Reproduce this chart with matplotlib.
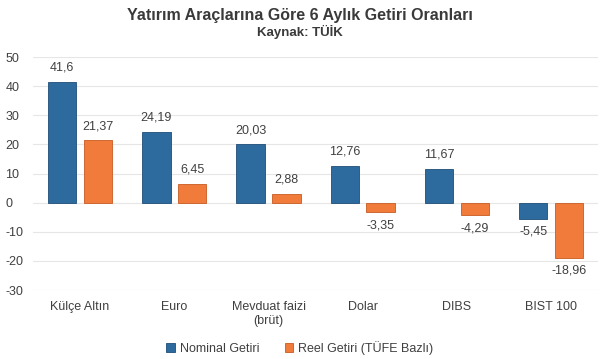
import numpy as np
import matplotlib.pyplot as plt

plt.rcParams['font.family'] = ['Liberation Sans Narrow', 'Liberation Sans', 'DejaVu Sans']
plt.rcParams['axes.unicode_minus'] = False

categories = ['Külçe Altın', 'Euro', 'Mevduat faizi\n(brüt)', 'Dolar', 'DIBS', 'BIST 100']
nominal = [41.6, 24.19, 20.03, 12.76, 11.67, -5.45]
reel = [21.37, 6.45, 2.88, -3.35, -4.29, -18.96]
nominal_lbl = ['41,6', '24,19', '20,03', '12,76', '11,67', '-5,45']
reel_lbl = ['21,37', '6,45', '2,88', '-3,35', '-4,29', '-18,96']

blue = '#2D6A9E'
orange = '#F07B3B'
txt = '#404040'

fig = plt.figure(figsize=(6, 3.59), dpi=100)
ax = fig.add_axes([0.055, 0.192, 0.942, 0.649])

x = np.arange(len(categories))
w = 0.30
off = 0.19
b1 = ax.bar(x - off, nominal, w, color=blue, edgecolor='#1F4E78', linewidth=0.6,
            label='Nominal Getiri', zorder=3)
b2 = ax.bar(x + off, reel, w, color=orange, edgecolor='#C85A22', linewidth=0.6,
            label='Reel Getiri (TÜFE Bazlı)', zorder=3)

for bars, labels in ((b1, nominal_lbl), (b2, reel_lbl)):
    for r, lab in zip(bars, labels):
        h = r.get_height()
        cx = r.get_x() + r.get_width() / 2
        if h >= 0:
            ax.annotate(lab, (cx, h), xytext=(0, 6), textcoords='offset points',
                        ha='center', va='bottom', fontsize=9, color=txt)
        else:
            ax.annotate(lab, (cx, h), xytext=(0, -5), textcoords='offset points',
                        ha='center', va='top', fontsize=9, color=txt)

ax.set_ylim(-30, 50)
ax.set_xlim(-0.5, 5.5)
ax.set_yticks(np.arange(-30, 51, 10))
ax.yaxis.grid(True, color='#E6E6E6', linewidth=0.8, zorder=0)
ax.set_axisbelow(True)
for s in ax.spines.values():
    s.set_visible(False)
ax.tick_params(length=0, labelsize=9, colors=txt)
ax.tick_params(axis='x', pad=8)
ax.set_xticks(x)
ax.set_xticklabels(categories, fontsize=9, color=txt)
for lbl in ax.get_yticklabels():
    lbl.set_horizontalalignment('left')
ax.tick_params(axis='y', pad=20)

fig.text(0.5, 0.958, 'Yatırım Araçlarına Göre 6 Aylık Getiri Oranları', ha='center',
         va='center', fontsize=11.5, fontweight='bold', color='#3A3A3A')
fig.text(0.5, 0.912, 'Kaynak: TÜİK', ha='center', va='center', fontsize=9.5,
         fontweight='bold', color='#3A3A3A')

fig.legend(loc='center', bbox_to_anchor=(0.5, 0.03), ncol=2, frameon=False,
           fontsize=9, handlelength=0.7, handleheight=0.7, handletextpad=0.4,
           columnspacing=2.0, labelcolor=txt)

fig.savefig('out.png', dpi=100)
